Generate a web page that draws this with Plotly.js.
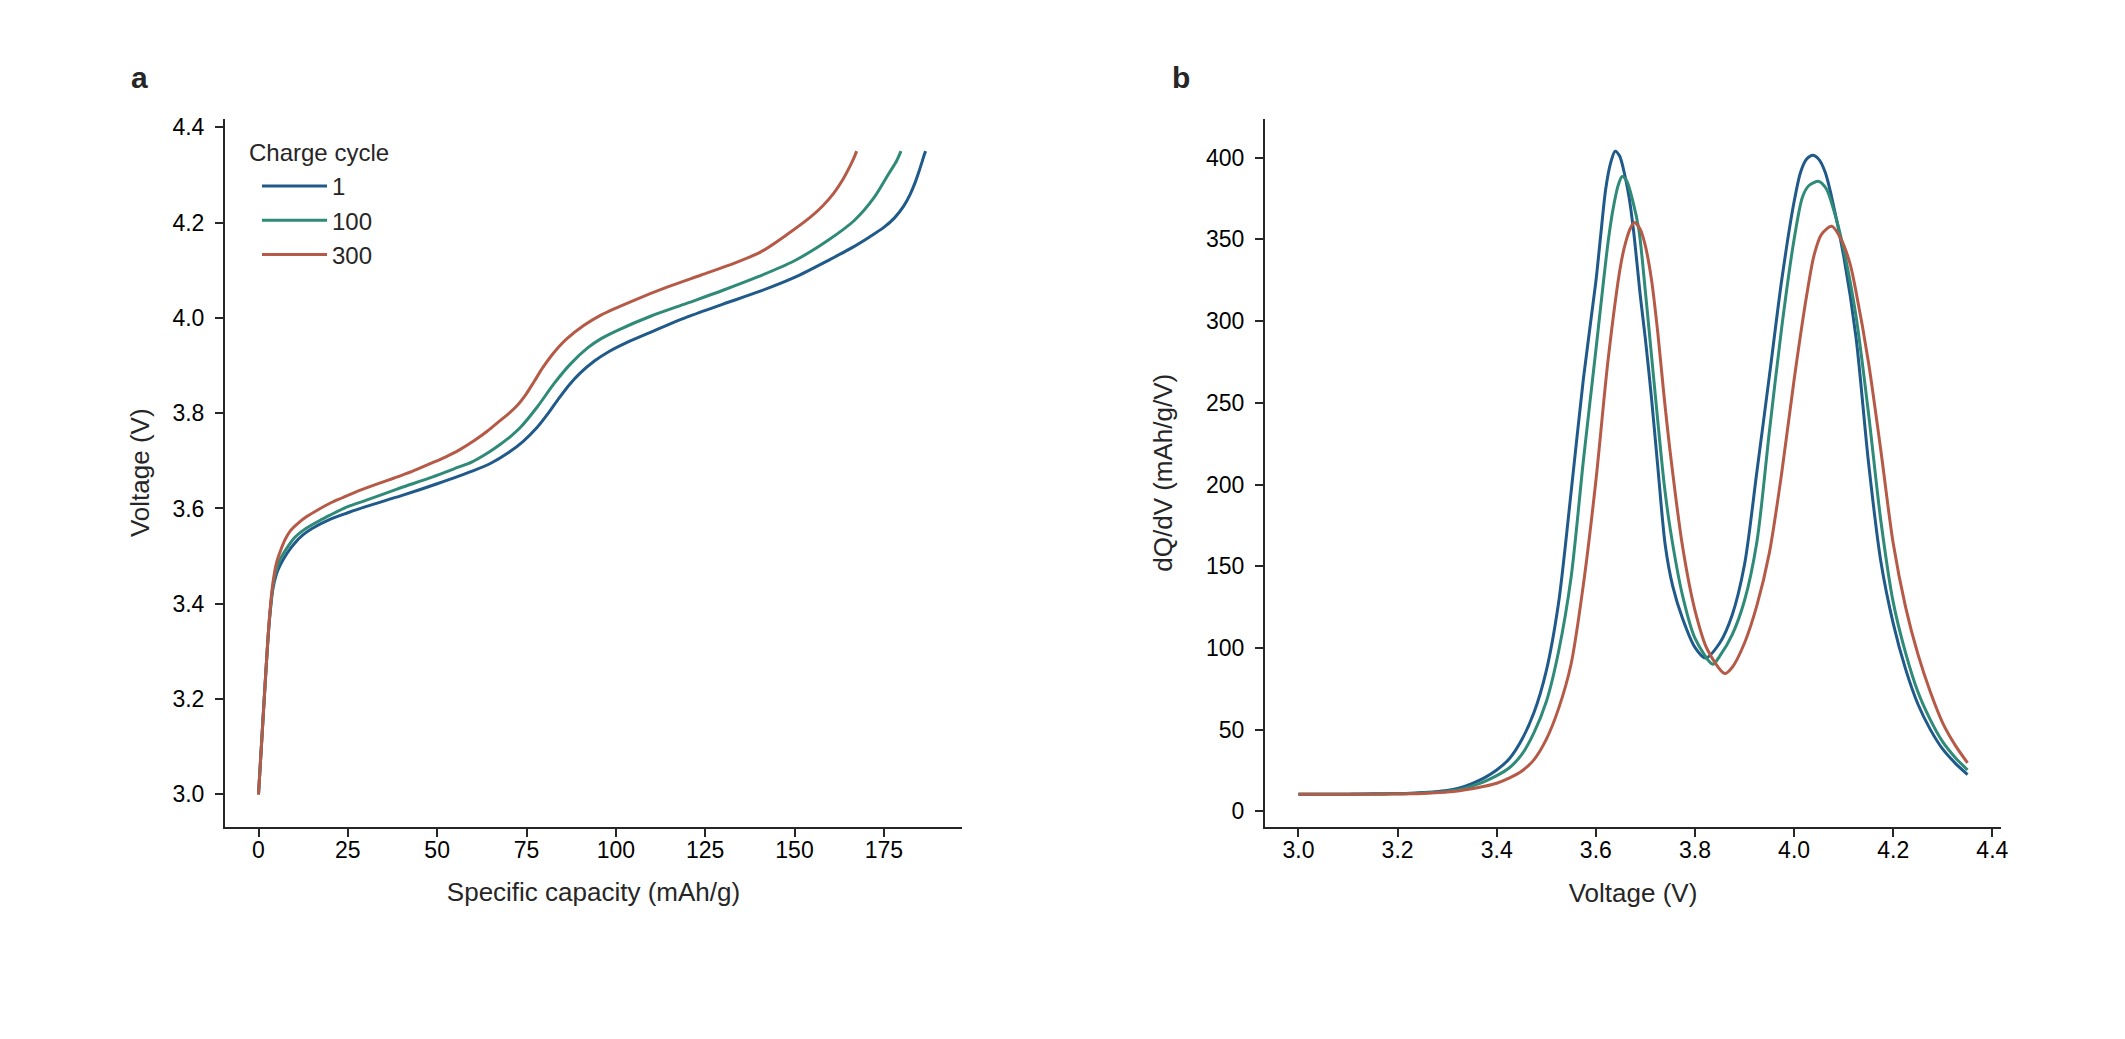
<!DOCTYPE html>
<html>
<head>
<meta charset="utf-8">
<script src="https://cdn.plot.ly/plotly-3.0.1.min.js"></script>
<style>
html,body{margin:0;padding:0;background:#fff;}
#chart{width:2125px;height:1039px;}
</style>
</head>
<body>
<div id="chart"></div>
<script>
// ---------- Series meta ----------
const cycleNames = ["1", "100", "300"];
const cycleColors = ["#1f5a8a", "#2f8a78", "#b65a48"];

// ---------- Panel a: charge curves (specific capacity mAh/g -> voltage V) ----------
const capCycle1 = [0, 1, 2, 3, 4, 5, 6, 8, 10, 12.5, 15, 20, 25, 30, 40, 50, 60, 65, 70, 74, 78, 81, 84, 87, 90, 94, 98, 103, 110, 120, 130, 140, 150, 160, 166, 171, 175, 178, 180.5, 182.4, 183.8, 184.9, 185.8, 186.3, 186.7];
const voltCycle1 = [3.000, 3.125, 3.250, 3.360, 3.430, 3.462, 3.480, 3.506, 3.526, 3.545, 3.558, 3.577, 3.591, 3.604, 3.627, 3.652, 3.679, 3.695, 3.7175, 3.7405, 3.7705, 3.799, 3.8305, 3.8598, 3.884, 3.9095, 3.929, 3.948, 3.9707, 4.002, 4.029, 4.055, 4.085, 4.123, 4.147, 4.170, 4.190, 4.210, 4.234, 4.260, 4.285, 4.309, 4.330, 4.342, 4.350];

const capCycle100 = [0, 1, 2, 3, 4, 5, 6, 8.4, 10, 12.1, 15, 17.7, 20, 25, 30, 37.4, 40, 48.6, 55, 59.8, 64, 67.7, 70.5, 73.4, 78, 82.7, 87.4, 92.1, 96, 100.5, 109.9, 120, 130, 140, 150, 159.4, 166.8, 172.4, 176.4, 178.6, 179.8];
const voltCycle100 = [3.000, 3.125, 3.250, 3.362, 3.435, 3.472, 3.492, 3.522, 3.538, 3.552, 3.566, 3.577, 3.586, 3.604, 3.617, 3.637, 3.644, 3.666, 3.684, 3.698, 3.716, 3.735, 3.751, 3.771, 3.813, 3.862, 3.904, 3.937, 3.957, 3.974, 4.004, 4.031, 4.058, 4.087, 4.120, 4.163, 4.205, 4.254, 4.303, 4.330, 4.350];

const capCycle300 = [0, 1, 2, 3, 4, 5, 6, 7.4, 9, 11.2, 13.5, 16.8, 20, 23.3, 27, 32.7, 38, 43, 48, 52.3, 56, 60.3, 64, 67.7, 70, 72.4, 74.8, 77.1, 79.5, 81.8, 84, 86.4, 91, 95.8, 105.1, 114.5, 123.9, 133.2, 140.7, 148.1, 154.7, 158, 161, 163.5, 165.5, 166.7, 167.4];
const voltCycle300 = [3.000, 3.125, 3.250, 3.365, 3.442, 3.485, 3.508, 3.534, 3.554, 3.570, 3.583, 3.598, 3.611, 3.622, 3.634, 3.650, 3.664, 3.678, 3.694, 3.708, 3.722, 3.742, 3.762, 3.785, 3.799, 3.816, 3.839, 3.866, 3.895, 3.919, 3.939, 3.957, 3.984, 4.006, 4.037, 4.065, 4.090, 4.115, 4.139, 4.176, 4.213, 4.236, 4.262, 4.290, 4.318, 4.337, 4.350];

// ---------- Panel b: dQ/dV curves (voltage V -> mAh/g/V) ----------
const dvVolt1 = [3.000, 3.025, 3.050, 3.075, 3.100, 3.125, 3.150, 3.175, 3.200, 3.225, 3.250, 3.275, 3.300, 3.325, 3.350, 3.375, 3.400, 3.425, 3.450, 3.475, 3.500, 3.525, 3.550, 3.575, 3.600, 3.610, 3.620, 3.630, 3.639, 3.648, 3.658, 3.667, 3.676, 3.690, 3.700, 3.712, 3.725, 3.740, 3.755, 3.775, 3.800, 3.821, 3.850, 3.875, 3.900, 3.925, 3.950, 3.975, 4.000, 4.013, 4.025, 4.038, 4.050, 4.063, 4.075, 4.100, 4.125, 4.150, 4.175, 4.200, 4.225, 4.250, 4.275, 4.300, 4.325, 4.350];
const dqdv1 = [10.4, 10.4, 10.4, 10.5, 10.5, 10.6, 10.7, 10.8, 10.9, 11.1, 11.5, 12.0, 12.8, 14.3, 17.0, 20.5, 25.3, 32.0, 43.5, 60.3, 86.0, 128.0, 195.0, 265.0, 324.0, 353.0, 381.0, 397.0, 404.0, 401.0, 390.0, 376.0, 355.6, 314.8, 289.0, 254.0, 211.0, 163.0, 138.0, 118.0, 100.3, 93.8, 103.0, 120.0, 151.0, 208.0, 266.0, 325.0, 373.0, 391.0, 399.0, 401.5, 399.0, 391.0, 377.0, 340.0, 290.0, 214.0, 153.0, 115.0, 87.0, 65.5, 50.0, 38.0, 29.5, 22.5];

const dvVolt100 = [3.000, 3.025, 3.050, 3.075, 3.100, 3.125, 3.150, 3.175, 3.200, 3.225, 3.250, 3.275, 3.300, 3.325, 3.350, 3.375, 3.400, 3.425, 3.450, 3.475, 3.500, 3.525, 3.550, 3.575, 3.600, 3.625, 3.635, 3.645, 3.653, 3.662, 3.675, 3.687, 3.700, 3.712, 3.725, 3.738, 3.750, 3.775, 3.800, 3.836, 3.850, 3.875, 3.900, 3.925, 3.950, 3.975, 4.000, 4.017, 4.030, 4.050, 4.065, 4.080, 4.100, 4.125, 4.150, 4.175, 4.200, 4.225, 4.250, 4.275, 4.300, 4.325, 4.350];
const dqdv100 = [10.4, 10.4, 10.4, 10.4, 10.5, 10.5, 10.6, 10.7, 10.8, 10.9, 11.2, 11.6, 12.2, 13.3, 15.4, 18.2, 21.8, 26.5, 34.5, 48.0, 67.0, 98.0, 143.0, 215.0, 282.0, 349.0, 369.0, 383.0, 388.5, 386.0, 373.0, 355.6, 318.0, 280.0, 239.0, 200.0, 173.0, 132.0, 106.0, 90.0, 95.0, 108.0, 129.0, 165.0, 232.0, 296.0, 350.0, 376.0, 383.0, 385.5, 381.0, 368.0, 344.0, 303.0, 244.0, 178.0, 128.0, 97.0, 73.0, 56.0, 42.5, 33.0, 25.3];

const dvVolt300 = [3.000, 3.025, 3.050, 3.075, 3.100, 3.125, 3.150, 3.175, 3.200, 3.225, 3.250, 3.275, 3.300, 3.325, 3.350, 3.375, 3.400, 3.425, 3.450, 3.475, 3.500, 3.525, 3.550, 3.575, 3.600, 3.625, 3.650, 3.660, 3.670, 3.678, 3.690, 3.700, 3.712, 3.725, 3.737, 3.750, 3.775, 3.800, 3.825, 3.860, 3.875, 3.900, 3.925, 3.950, 3.975, 4.000, 4.025, 4.040, 4.055, 4.076, 4.095, 4.113, 4.125, 4.150, 4.175, 4.200, 4.225, 4.250, 4.275, 4.300, 4.325, 4.350];
const dqdv300 = [10.4, 10.4, 10.4, 10.4, 10.4, 10.4, 10.5, 10.5, 10.6, 10.7, 10.9, 11.3, 11.8, 12.6, 13.8, 15.3, 17.2, 20.3, 24.5, 31.5, 44.0, 63.0, 90.0, 139.0, 202.0, 277.0, 334.0, 348.0, 357.0, 360.3, 356.0, 346.0, 326.0, 293.0, 256.0, 220.0, 162.0, 123.0, 99.0, 84.3, 88.0, 103.0, 126.0, 158.0, 207.0, 264.0, 315.0, 340.0, 353.0, 358.0, 350.0, 335.0, 318.0, 275.0, 221.0, 164.0, 125.0, 96.0, 73.0, 54.0, 40.5, 29.6];

// ---------- Tick definitions ----------
const capTicks = [0, 25, 50, 75, 100, 125, 150, 175];
const voltTicks = [3.0, 3.2, 3.4, 3.6, 3.8, 4.0, 4.2, 4.4];
const dqdvTicks = [0, 50, 100, 150, 200, 250, 300, 350, 400];

const capSeries = [[capCycle1, voltCycle1], [capCycle100, voltCycle100], [capCycle300, voltCycle300]];
const dqSeries = [[dvVolt1, dqdv1], [dvVolt100, dqdv100], [dvVolt300, dqdv300]];

const FONT = "Liberation Sans, Arial, Helvetica, sans-serif";
const INK = "#262626";
const W = 2125, H = 1039;

const traces = [];
capSeries.forEach((s, i) => {
  traces.push({
    x: s[0], y: s[1], type: "scatter", mode: "lines", name: cycleNames[i],
    legendgroup: "g" + i,
    line: {color: cycleColors[i], width: 3, shape: "spline", smoothing: 0.8},
    xaxis: "x", yaxis: "y", showlegend: true
  });
});
dqSeries.forEach((s, i) => {
  traces.push({
    x: s[0], y: s[1], type: "scatter", mode: "lines", name: cycleNames[i],
    legendgroup: "g" + i,
    line: {color: cycleColors[i], width: 3, shape: "spline", smoothing: 0.8},
    xaxis: "x2", yaxis: "y2", showlegend: false
  });
});

const axisCommon = {
  showgrid: false, zeroline: false, showline: true, linecolor: INK, linewidth: 2,
  ticks: "outside", ticklen: 8, tickwidth: 2, tickcolor: INK,
  tickfont: {family: FONT, size: 23, color: "#000"},
  mirror: false, fixedrange: true
};

const yDom = [1 - 826.5 / H, 1 - 119 / H];
const titleFont = {family: FONT, size: 26, color: INK};

const layout = {
  width: W, height: H,
  margin: {l: 0, r: 0, t: 0, b: 0},
  paper_bgcolor: "#fff", plot_bgcolor: "#fff",
  font: {family: FONT, color: INK},
  showlegend: true,
  legend: {
    x: 257 / W, y: 1 - 164 / H, xanchor: "left", yanchor: "top",
    bgcolor: "rgba(0,0,0,0)", borderwidth: 0,
    font: {family: FONT, size: 24, color: INK},
    itemwidth: 65, tracegroupgap: 2, traceorder: "normal"
  },
  xaxis: Object.assign({}, axisCommon, {
    domain: [225 / W, 962 / W], range: [-9.375, 196.875],
    tickvals: capTicks, ticktext: capTicks.map(String),
    title: {text: "Specific capacity (mAh/g)", font: titleFont, standoff: 21},
    anchor: "y", ticklabelstandoff: -6
  }),
  yaxis: Object.assign({}, axisCommon, {
    domain: yDom, range: [2.9325, 4.4175],
    tickvals: voltTicks, ticktext: voltTicks.map(v => v.toFixed(1)),
    title: {text: "Voltage (V)", font: titleFont, standoff: 15},
    anchor: "x", ticklabelstandoff: 6
  }),
  xaxis2: Object.assign({}, axisCommon, {
    domain: [1265 / W, 2001 / W], range: [2.9325, 4.4175],
    tickvals: voltTicks, ticktext: voltTicks.map(v => v.toFixed(1)),
    title: {text: "Voltage (V)", font: titleFont, standoff: 22},
    anchor: "y2", ticklabelstandoff: -6
  }),
  yaxis2: Object.assign({}, axisCommon, {
    domain: yDom, range: [-9.3, 423.7],
    tickvals: dqdvTicks, ticktext: dqdvTicks.map(String),
    title: {text: "dQ/dV (mAh/g/V)", font: titleFont, standoff: 26},
    anchor: "x2", ticklabelstandoff: 6
  }),
  annotations: [
    {text: "<b>a</b>", xref: "paper", yref: "paper", x: 139.5 / W, y: 1 - 78 / H,
     xanchor: "center", yanchor: "middle", showarrow: false, font: {family: FONT, size: 30, color: INK}},
    {text: "<b>b</b>", xref: "paper", yref: "paper", x: 1181 / W, y: 1 - 78 / H,
     xanchor: "center", yanchor: "middle", showarrow: false, font: {family: FONT, size: 30, color: INK}},
    {text: "Charge cycle", xref: "paper", yref: "paper", x: 247 / W, y: 1 - 152 / H,
     xanchor: "left", yanchor: "middle", showarrow: false, font: {family: FONT, size: 24, color: INK}}
  ]
};

Plotly.newPlot("chart", traces, layout, {displayModeBar: false, staticPlot: true});
</script>
</body>
</html>
